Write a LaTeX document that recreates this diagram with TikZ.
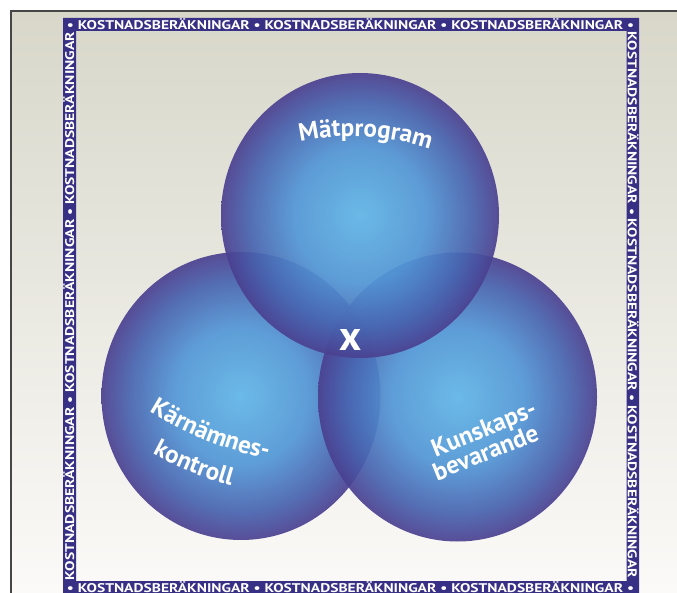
\documentclass[tikz,border=0pt]{standalone}
\usepackage{fontspec}
\setmainfont{PT Sans}
\usepackage{graphicx}
\usepackage{xcolor}
\usetikzlibrary{decorations.text}

\definecolor{bandblue}{RGB}{55,48,133}
\definecolor{orbin}{RGB}{96,182,232}
\definecolor{orbmid}{RGB}{82,150,214}
\definecolor{orbdeep}{RGB}{72,100,176}
\definecolor{orbout}{RGB}{74,64,144}
\definecolor{papertop}{RGB}{216,215,202}
\definecolor{paperbot}{RGB}{251,250,248}
\definecolor{rulegray}{RGB}{70,70,70}

\pgfdeclareradialshading{orb}{\pgfpoint{0bp}{0bp}}{%
  color(0bp)=(orbin); color(12bp)=(orbmid); color(20bp)=(orbdeep);
  color(25bp)=(orbout); color(50bp)=(orbout)}

\newcommand{\costword}{KOSTNADSBER\"AKNINGAR}
\newcommand{\bandfont}{\fontsize{12.6}{14}\selectfont\bfseries}
\newcommand{\orbfont}{\fontsize{25}{29}\selectfont\bfseries\color{white}}

\begin{document}
\begin{tikzpicture}[
  x=1pt, y=-1pt,
  % --- styles ---
  orbfill/.style={shade, shading=orb, fill opacity=0.92},
  bandlabel/.style={text=white, inner sep=0pt, font=\bandfont},
  orbtext/.style={decorate, decoration={text along path, text={|\orbfont|#1}}},
  orbtextc/.style={decorate, decoration={text along path, text={|\orbfont|#1}, text align=center}}
]
\useasboundingbox (0,0) rectangle (677,593);
\clip (0,0) rectangle (677,593);

% ======================================================
% Paper (gradient) and outer rule
% ======================================================
\shade[top color=papertop, bottom color=paperbot] (11,11) rectangle (677,593);
\draw[rulegray, line width=1.6pt] (11,593) -- (11,11) -- (677,11);

% ======================================================
% Three circles (left, right, top)
% ======================================================
\path[orbfill] (241,396) ellipse [x radius=139.5, y radius=144];
\path[orbfill] (457.5,397) ellipse [x radius=139.5, y radius=144.5];
\path[orbfill] (360,215.5) ellipse [x radius=139, y radius=142.5];

% ======================================================
% Circle labels (set along arcs)
% ======================================================
\coordinate (toparc) at (351.6,381.1);
\coordinate (leftarc) at (337.7,109.6);

\path[orbtextc=Mätprogram] ([shift={(-111.75:245)}]toparc)
  arc[start angle=-111.75, end angle=-61.75, radius=245];

\path[orbtext=Kärnämnes-] ([shift={(122:356)}]leftarc)
  arc[start angle=122, end angle=92, radius=356];
\path[orbtext=kontroll] ([shift={(118.3:391)}]leftarc)
  arc[start angle=118.3, end angle=92, radius=391];

\coordinate (kunsk) at (435.5,457);
\coordinate (bevar) at (437,481);
\path[orbtext=Kunskaps-] (kunsk) -- ++(-22:180);
\path[orbtext=bevarande] (bevar) -- ++(-22:180);

% centre mark
\node[font=\fontsize{42}{44}\selectfont\bfseries, text=white, anchor=base] (xmark) at (351,351) {x};

% ======================================================
% Lettered frame
% ======================================================
\fill[bandblue, even odd rule] (63,18) rectangle (639,595) (76,31) rectangle (626.5,581);

\node[bandlabel, anchor=base] (topband) at (350.5,29.4)
  {\resizebox{567pt}{\height}{\bandfont • \costword{} • \costword{} • \costword{} •}};
\node[bandlabel, anchor=base] (botband) at (350.5,592.8)
  {\resizebox{567pt}{\height}{\bandfont • \costword{} • \costword{} • \costword{} •}};
\node[bandlabel, rotate=90, anchor=base] (leftband) at (74,306)
  {\resizebox{548pt}{\height}{\bandfont \costword{} • \costword{} • \costword}};
\node[bandlabel, rotate=-90, anchor=base] (rightband) at (627.8,305)
  {\resizebox{546pt}{\height}{\bandfont \costword{} • \costword{} • \costword}};

\end{tikzpicture}
\end{document}
